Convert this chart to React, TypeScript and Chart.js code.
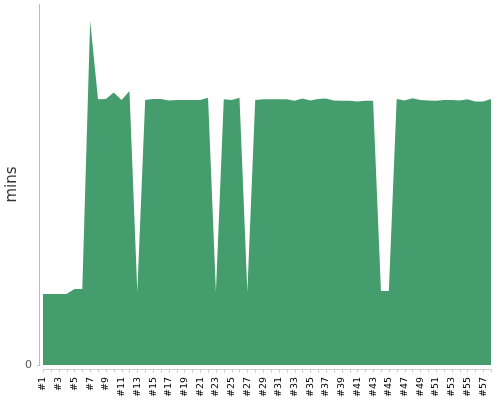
import React, { useEffect, useRef } from "react";
import { Chart, registerables } from "chart.js";

Chart.register(...registerables);

const categories: string[] = Array.from({ length: 58 }, (_, i) => "#" + (i + 1));

const minutes: number[] = [
  2.36, 2.36, 2.36, 2.36, 2.53, 2.53, 11.44, 8.83, 8.84, 9.06,
  8.81, 9.11, 2.43, 8.81, 8.84, 8.84, 8.79, 8.81, 8.81, 8.81,
  8.81, 8.88, 2.43, 8.83, 8.81, 8.88, 2.43, 8.81, 8.83, 8.83,
  8.83, 8.83, 8.78, 8.86, 8.79, 8.84, 8.86, 8.79, 8.78, 8.78,
  8.76, 8.78, 8.78, 2.46, 2.46, 8.84, 8.79, 8.87, 8.81, 8.79,
  8.78, 8.81, 8.81, 8.79, 8.83, 8.76, 8.76, 8.84,
];

const yTicks: number[] = [0];
const yTitle = "mins";

const axisPlugin = {
  id: "customAxes",
  afterDraw(chart: any) {
    const { ctx, chartArea, scales } = chart;
    const x = scales.x;
    ctx.save();
    ctx.strokeStyle = "#bbbbbb";
    ctx.lineWidth = 1;
    ctx.beginPath();
    ctx.moveTo(chartArea.left - 3.5, chartArea.top);
    ctx.lineTo(chartArea.left - 3.5, chartArea.bottom + 1);
    ctx.stroke();
    ctx.beginPath();
    ctx.moveTo(chartArea.left - 6, chartArea.bottom + 0.5);
    ctx.lineTo(chartArea.left - 3, chartArea.bottom + 0.5);
    ctx.stroke();
    ctx.strokeStyle = "#cccccc";
    const yl = chartArea.bottom + 4.5;
    ctx.beginPath();
    ctx.moveTo(chartArea.left, yl);
    ctx.lineTo(chartArea.right, yl);
    ctx.stroke();
    for (let i = 0; i < categories.length; i++) {
      const px = Math.round(x.getPixelForValue(i)) + 0.5;
      ctx.beginPath();
      ctx.moveTo(px, yl);
      ctx.lineTo(px, yl + 3);
      ctx.stroke();
    }
    ctx.restore();
  },
};

export default function App() {
  const ref = useRef<HTMLCanvasElement | null>(null);
  useEffect(() => {
    document.body.style.margin = "0";
    const c = ref.current!;
    const chart = new Chart(c, {
      type: "line",
      data: {
        labels: categories,
        datasets: [
          {
            data: minutes,
            fill: "origin",
            backgroundColor: "#459d6d",
            borderColor: "#459d6d",
            borderWidth: 0,
            pointRadius: 0,
            tension: 0,
          },
        ],
      },
      options: {
        responsive: false,
        animation: false,
        layout: { padding: { top: 4, right: 9, bottom: 0, left: 0 } },
        plugins: { legend: { display: false }, tooltip: { enabled: false } },
        scales: {
          x: {
            grid: { display: false, drawTicks: false },
            border: { display: false },
            afterFit: (s: any) => {
              s.height = 35;
              s.paddingLeft = 0;
              s.paddingRight = 0;
            },
            ticks: {
              autoSkip: false,
              minRotation: 90,
              maxRotation: 90,
              padding: 12,
              color: "#000000",
              font: { family: "DejaVu Sans", size: 9.5 },
              callback: (_v: any, i: number) => (i % 2 === 0 ? categories[i] : ""),
            },
          },
          y: {
            min: 0,
            max: 12,
            grid: { display: false, drawTicks: false },
            border: { display: false },
            afterBuildTicks: (s: any) => {
              s.ticks = yTicks.map((v) => ({ value: v }));
            },
            afterFit: (s: any) => {
              s.width = 43;
              s.paddingTop = 0;
              s.paddingBottom = 0;
            },
            ticks: {
              padding: 11,
              color: "#555555",
              font: { family: "DejaVu Sans", size: 11 },
            },
            title: {
              display: true,
              text: yTitle,
              color: "#333333",
              font: { family: "DejaVu Sans", size: 15 },
              padding: { top: 3, bottom: 0 },
            },
          },
        },
      },
      plugins: [axisPlugin],
    });
    return () => chart.destroy();
  }, []);
  return (
    <div style={{ position: "fixed", left: 0, top: 0, width: 500, height: 400 }}>
      <canvas ref={ref} width={500} height={400} />
    </div>
  );
}
